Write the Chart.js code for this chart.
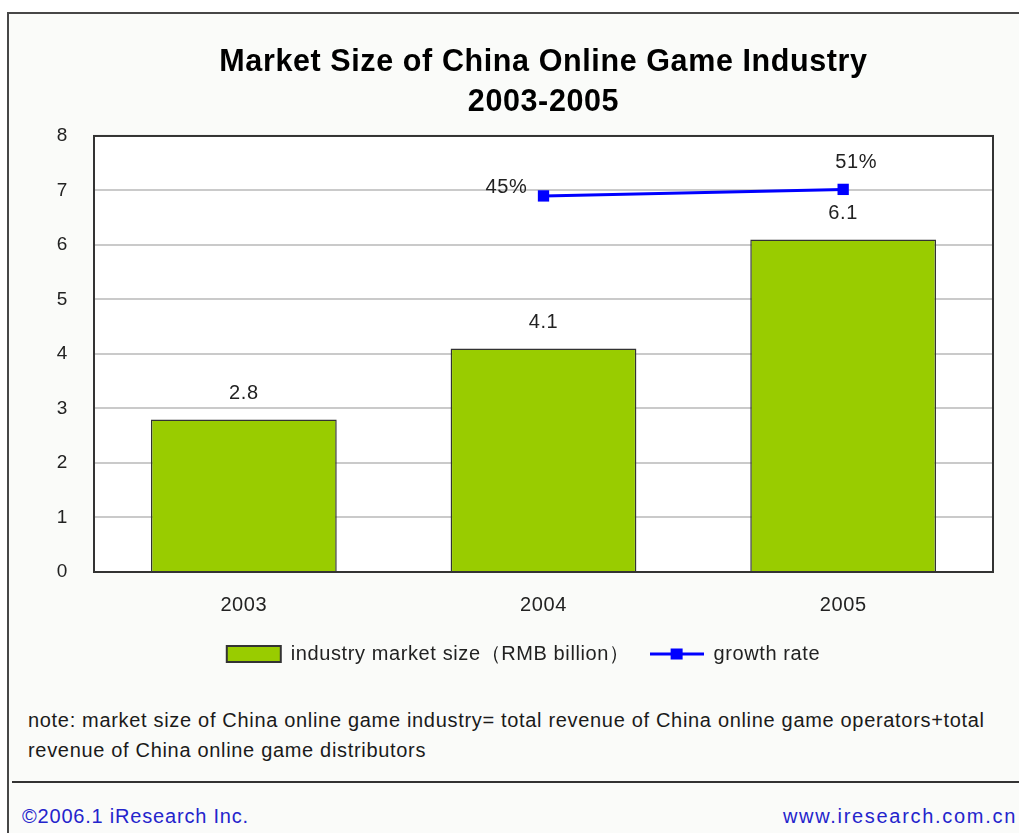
<!DOCTYPE html>
<html>
<head>
<meta charset="utf-8">
<script src="https://cdn.jsdelivr.net/npm/chart.js@4.4.0/dist/chart.umd.min.js"></script>
<style>
html, body { margin: 0; padding: 0; background: #fff; }
body { width: 1019px; height: 833px; position: relative; overflow: hidden; font-family: Arial, "Liberation Sans", sans-serif; }
#frame { position: absolute; left: 7px; top: 12px; width: 1100px; height: 900px; border: 2px solid #474747; background: #fafbf9; }
#box { position: absolute; left: 0; top: 0; width: 1019px; height: 690px; }
#note { position: absolute; left: 28px; top: 706px; font-size: 20px; line-height: 29.5px; letter-spacing: 0.68px; color: #1a1a1a; white-space: nowrap; }
#rule { position: absolute; left: 12px; top: 781px; width: 1010px; height: 2px; background: #333; }
.foot { position: absolute; top: 805px; font-size: 20px; color: #2424cc; white-space: nowrap; }
</style>
</head>
<body>
<div id="frame"></div>
<div id="box"><canvas id="bar-chart"></canvas></div>
<div id="note">note: market size of China online game industry= total revenue of China online game operators+total<br>revenue of China online game distributors</div>
<div id="rule"></div>
<div class="foot" style="left:22px; letter-spacing:0.8px">&copy;2006.1 iResearch Inc.</div>
<div class="foot" style="right:2px; letter-spacing:1.7px">www.iresearch.com.cn</div>

<script>
var anni = ['2003', '2004', '2005'];
var mercato = [2.8, 4.1, 6.1];          // RMB billion
var crescita = [null, 45, 51];          // growth rate, %
var yMin = 0, yMax = 8, yStep = 1;
var titolo = ['Market Size of China Online Game Industry', '2003-2005'];
var etichette = ['industry market size\uFF08RMB billion\uFF09', 'growth rate'];

var FONT = 'Arial, "Liberation Sans", sans-serif';
var SPACING = '0.6px';

// legend key for the line: a blue stroke with a square in the middle
var lineKey = document.createElement('canvas');
lineKey.width = 54;
lineKey.height = 16;
(function () {
    var c = lineKey.getContext('2d');
    c.fillStyle = '#0000ff';
    c.fillRect(0, 6.5, 54, 3);
    c.fillRect(21, 2.5, 12, 11);
})();

var labelsPlugin = {
    id: 'labelsPlugin',
    beforeLayout: function (chart) {
        chart.ctx.letterSpacing = SPACING;
    },
    beforeDraw: function (chart) {
        var a = chart.chartArea, ctx = chart.ctx;
        ctx.letterSpacing = SPACING;
        ctx.save();
        ctx.fillStyle = '#ffffff';
        ctx.fillRect(a.left, a.top, a.right - a.left, a.bottom - a.top);
        ctx.restore();
    },
    afterDatasetsDraw: function (chart) {
        var ctx = chart.ctx, a = chart.chartArea;
        ctx.save();
        ctx.font = '20px ' + FONT;
        ctx.fillStyle = '#222';
        ctx.textAlign = 'center';
        ctx.textBaseline = 'middle';
        chart.getDatasetMeta(0).data.forEach(function (bar, i) {
            ctx.fillText(mercato[i].toFixed(1), bar.x, bar.y - 26);
        });
        var off = [null, [-37, -8], [13, -27]];
        chart.getDatasetMeta(1).data.forEach(function (pt, i) {
            if (crescita[i] == null) return;
            ctx.fillText(crescita[i] + '%', pt.x + off[i][0], pt.y + off[i][1]);
        });
        ctx.strokeStyle = '#333';
        ctx.lineWidth = 2;
        ctx.strokeRect(a.left, a.top, a.right - a.left, a.bottom - a.top);
        ctx.restore();
    }
};

var ctx = document.getElementById('bar-chart');
var chart = new Chart(ctx, {
    type: 'bar',
    data: {
        labels: anni,
        datasets: [{
            label: etichette[0],
            data: mercato,
            backgroundColor: '#99cc00',
            borderColor: '#333',
            borderWidth: 1.5,
            barPercentage: 0.62,
            categoryPercentage: 1,
            yAxisID: 'y'
        }, {
            type: 'line',
            label: etichette[1],
            data: crescita,
            borderColor: '#0000ff',
            backgroundColor: '#0000ff',
            borderWidth: 3,
            pointStyle: 'rect',
            pointRadius: 8,
            pointBorderWidth: 0,
            tension: 0,
            yAxisID: 'y2'
        }]
    },
    options: {
        responsive: true,
        maintainAspectRatio: false,
        animation: false,
        layout: { padding: { left: 54, right: 26, top: 0, bottom: 16 } },
        plugins: {
            title: {
                display: true,
                fullSize: false,
                text: titolo,
                color: '#000',
                font: { family: FONT, size: 30.5, weight: 'bold', lineHeight: 1.311 },
                padding: { top: 43, bottom: 13 }
            },
            legend: {
                position: 'bottom',
                labels: {
                    usePointStyle: true,
                    pointStyleWidth: 54,
                    boxHeight: 16,
                    padding: 20,
                    color: '#222',
                    font: { family: FONT, size: 20 },
                    generateLabels: function (chart) {
                        var items = Chart.defaults.plugins.legend.labels.generateLabels(chart);
                        items[0].pointStyle = 'rect';
                        items[0].lineWidth = 2;
                        items[0].strokeStyle = '#333';
                        items[1].pointStyle = lineKey;
                        return items;
                    }
                }
            },
            tooltip: { enabled: false }
        },
        scales: {
            x: {
                grid: { display: false },
                border: { display: false },
                ticks: { color: '#222', font: { family: FONT, size: 20 }, padding: 13 },
                afterFit: function (scale) { scale.height = 52; }
            },
            y: {
                min: yMin,
                max: yMax,
                ticks: { stepSize: yStep, color: '#222', font: { family: FONT, size: 19 }, padding: 26 },
                grid: { color: '#cacaca', lineWidth: 2, drawTicks: false },
                border: { display: false },
                afterFit: function (scale) { scale.width = 40; }
            },
            y2: {
                display: false,
                min: -300,
                max: 100
            }
        }
    },
    plugins: [labelsPlugin]
});
</script>
</body>
</html>
